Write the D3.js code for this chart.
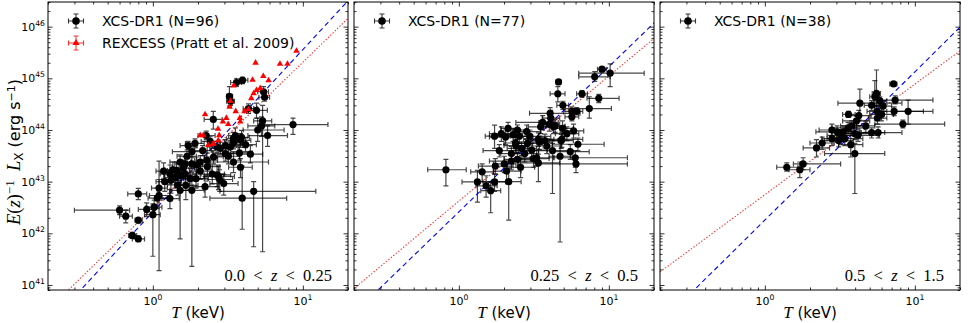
<!DOCTYPE html>
<html>
<head>
<meta charset="utf-8">
<script src="https://cdn.jsdelivr.net/npm/d3@7"></script>
<style>
  body { margin: 0; background: #fff; }
  svg { display: block; font-family: "DejaVu Sans", sans-serif; }
</style>
</head>
<body>
<svg id="viz" width="970" height="323"></svg>
<script>

// XCS-DR1 clusters: [T, T low, T high, L, L low, L high]  (T in keV, L in erg/s)
let xcsLowZ = [
	[3.96,3.6,4.3,9.2e44,7.9e44,1.05e45], [3.61,3.3,3.9,8.3e44,7.0e44,9.8e44],
	[3.24,3.1,3.4,4.5e44,2.9e44,6.9e44], [3.30,3.1,3.5,3.6e44,3.0e44,4.3e44],
	[5.47,5.0,5.9,5.5e44,4.4e44,6.9e44], [5.56,5.1,6.0,4.3e44,3.6e44,5.1e44],
	[4.91,4.3,5.8,2.4e44,1.7e44,3.3e44], [4.34,4.0,4.7,2.6e44,2.1e44,3.2e44],
	[8.6,5.2,14.7,1.27e44,8.2e43,1.7e44], [2.53,2.2,2.9,1.6e44,1.04e44,2.3e44],
	[5.39,4.7,6.2,1.5e44,4.4e41,3.0e44], [5.3,4.3,6.5,1.2e44,7.5e43,1.8e44],
	[5.0,4.0,7.5,1.0e44,6.0e43,1.7e44], [5.82,4.3,7.9,7.8e43,4.8e43,1.2e44],
	[3.55,3.2,3.9,7.8e43,5.5e43,1.1e44], [3.9,3.5,4.4,7.2e43,5.2e43,9.8e43],
	[3.44,3.1,3.8,6.8e43,5.0e43,9.0e43], [1.72,1.52,1.97,5.0e43,4.2e43,6.0e43],
	[2.27,2.0,2.6,7.8e43,6.5e43,9.5e43], [1.82,1.35,2.3,3.8e43,2.9e43,4.9e43],
	[2.15,1.9,2.45,4.0e43,3.2e43,5.0e43], [2.68,2.3,3.1,4.7e43,3.7e43,6.0e43],
	[3.04,2.6,3.6,5.0e43,3.8e43,6.5e43], [3.45,3.0,4.0,5.8e43,4.3e43,7.5e43],
	[3.84,3.3,4.5,6.3e43,4.6e43,8.5e43], [3.04,2.5,3.7,3.5e43,2.5e43,4.8e43],
	[3.78,3.1,4.6,3.6e43,2.6e43,5.0e43], [2.54,2.2,2.95,3.0e43,2.2e43,4.0e43],
	[2.29,1.9,2.7,2.6e43,1.9e43,3.6e43], [3.45,2.4,5.9,2.4e43,1.5e43,3.8e43],
	[1.52,1.3,1.8,2.4e43,1.7e43,3.3e43], [1.82,1.55,2.15,2.2e43,1.5e43,3.1e43],
	[1.36,1.2,1.55,1.7e43,1.2e43,2.4e43], [1.44,1.25,1.65,1.65e43,1.1e43,2.4e43],
	[1.6,1.35,1.9,1.85e43,1.3e43,2.6e43], [1.96,1.6,2.4,2.1e43,1.4e43,3.0e43],
	[2.31,1.9,2.8,1.95e43,1.3e43,2.8e43], [1.30,1.12,1.5,1.4e43,9.0e42,2.1e43],
	[1.32,1.15,1.55,1.06e43,6.0e42,1.7e43], [1.41,1.2,1.65,1.2e43,7.5e42,1.9e43],
	[1.54,1.3,1.85,1.32e43,8.5e42,2.0e43], [1.77,1.45,2.2,1.14e43,7.0e42,1.8e43],
	[1.66,1.4,2.0,8.5e42,4.5e42,1.4e43], [1.82,1.5,2.2,6.8e42,2.3e41,1.2e43],
	[1.52,1.3,1.8,6.8e42,7.8e41,1.56e43], [1.30,1.15,1.5,4.7e42,3.0e42,7.0e42],
	[1.10,0.98,1.25,7.5e42,5.0e42,1.1e43], [1.10,0.95,1.3,5.4e42,1.9e41,2.5e43],
	[0.80,0.68,0.91,5.8e42,4.5e42,7.4e42], [1.07,0.93,1.25,4.8e42,3.0e42,7.5e42],
	[1.02,0.9,1.15,3.2e42,2.3e42,4.4e42], [0.91,0.8,1.03,2.9e42,2.1e42,3.9e42],
	[1.0,0.88,1.12,2.3e42,3.6e41,3.7e42], [0.60,0.30,0.70,2.8e42,2.3e42,3.4e42],
	[0.66,0.60,0.73,2.15e42,1.6e42,2.8e42], [0.80,0.76,0.85,1.8e42,1.6e42,2.0e42],
	[0.73,0.69,0.78,9.1e41,8.0e41,1.05e42], [0.80,0.73,0.88,7.8e41,6.9e41,8.9e41],
	[2.68,2.2,3.3,1.35e43,8.0e42,2.1e43], [2.79,2.3,3.4,1.1e43,6.5e42,1.7e43],
	[2.97,2.4,3.7,9.2e42,5.5e42,1.4e43], [3.84,3.2,4.6,1.9e43,1.2e43,2.8e43],
	[4.7,2.8,12.2,6.5e42,5.5e41,1.0e43], [3.94,2.4,7.8,4.8e42,1.2e42,2.0e43],
	[3.28,2.9,3.7,4.7e43,3.5e43,6.2e43], [1.64,1.4,1.95,2.2e43,1.6e43,3.0e43],
	[2.07,1.8,2.4,2.4e43,1.8e43,3.2e43], [2.74,2.2,3.5,1.26e43,7.0e42,2.0e43],
	[1.91,1.65,2.2,5.5e43,4.5e43,6.7e43], [2.41,2.1,2.8,6.0e43,4.8e43,7.4e43],
	[2.82,2.4,3.3,4.4e43,3.3e43,5.8e43], [3.19,2.7,3.8,3.1e43,2.2e43,4.3e43],
	[2.07,1.75,2.45,1.6e43,1.1e43,2.3e43], [2.49,2.1,3.0,1.4e43,9.0e42,2.1e43],
	[1.2,1.05,1.4,1.0e43,6.5e42,1.5e43], [1.47,1.25,1.75,8.7e42,5.5e42,1.35e43],
	[1.94,1.6,2.35,1.14e43,7.5e42,1.7e43], [2.23,1.85,2.7,8.0e42,5.0e42,1.25e43],
	[1.64,1.4,1.95,1.4e43,9.5e42,2.0e43], [4.15,3.5,4.9,5.2e43,3.8e43,7.0e43],
	[4.47,3.7,5.4,3.4e43,2.3e43,5.0e43], [1.69,1.45,1.95,3.1e43,2.3e43,4.1e43],
	[1.18,1.05,1.35,1.6e43,1.1e43,2.3e43]
];

let xcsMidZ = [
	[9.0,8.4,9.6,1.5e45,1.35e45,1.65e45], [8.05,6.3,10.2,1.07e45,8.7e44,1.35e45],
	[10.2,6.3,17.2,1.26e45,6.9e44,1.9e45], [4.62,4.45,4.8,8.5e44,7.8e44,9.3e44],
	[4.57,4.06,5.1,5.0e44,3.5e44,6.9e44], [6.62,6.1,7.2,5.0e44,4.3e44,5.8e44],
	[8.57,7.15,11.7,4.1e44,3.4e44,4.9e44], [7.41,5.1,10.4,2.6e44,1.7e44,4.4e44],
	[4.94,4.5,5.4,3.0e44,2.5e44,3.6e44], [5.67,5.0,6.4,2.3e44,1.9e44,2.8e44],
	[6.1,5.6,6.7,2.3e44,1.95e44,2.7e44], [4.06,2.96,6.42,2.1e44,1.6e44,2.7e44],
	[4.1,3.6,4.7,1.7e44,1.2e44,2.4e44], [3.62,2.4,4.6,1.4e44,1.0e44,1.9e44],
	[5.67,5.1,6.3,1.8e44,1.5e44,2.2e44], [4.27,3.6,5.1,1.15e44,8.5e43,1.5e44],
	[4.91,4.2,5.8,1.07e44,7.5e43,1.5e44], [5.82,5.0,6.8,9.6e43,7.0e43,1.3e44],
	[2.13,1.9,2.45,1.07e44,8.0e43,1.4e44], [2.46,2.1,2.9,1.0e44,5.5e43,1.25e44],
	[1.73,1.5,2.0,7.6e43,4.4e43,1.24e44], [2.05,1.6,2.5,7.3e43,5.2e43,1.0e44],
	[2.30,2.0,2.65,8.1e43,6.0e43,1.05e44], [2.53,2.2,2.9,7.6e43,5.5e43,1.0e44],
	[2.98,2.1,4.1,7.5e43,5.5e43,1.0e44], [3.39,2.7,4.3,6.6e43,4.8e43,8.8e43],
	[3.75,3.0,4.6,6.2e43,4.5e43,8.3e43], [4.86,3.6,6.7,6.6e43,4.6e43,9.0e43],
	[6.22,4.2,9.3,5.3e43,4.0e43,7.0e43], [2.87,2.3,3.6,5.5e43,4.0e43,7.5e43],
	[2.39,2.0,2.8,5.6e43,4.1e43,7.5e43], [1.86,1.45,2.49,4.0e43,3.0e43,5.2e43],
	[2.62,2.1,3.3,4.4e43,3.2e43,5.9e43], [3.06,2.4,3.9,4.1e43,3.0e43,5.5e43],
	[4.21,3.4,5.4,4.0e43,5.9e42,5.5e43], [5.53,4.3,7.4,3.8e43,2.7e43,5.2e43],
	[2.24,1.9,2.7,3.5e43,2.5e43,4.8e43], [0.82,0.62,1.12,1.7e43,8.3e42,2.7e43],
	[1.33,1.05,1.75,9.9e42,4.0e42,1.66e43], [1.43,1.2,1.7,1.55e43,1.0e43,2.2e43],
	[1.63,1.4,1.9,6.7e42,2.5e42,1.0e43], [1.52,1.3,1.8,8.3e42,5.0e42,1.3e43],
	[1.73,1.45,2.05,9.9e42,6.5e42,1.4e43], [1.75,1.35,2.3,2.0e43,1.4e43,2.8e43],
	[2.15,1.8,2.6,1.0e43,1.8e42,1.8e43], [2.08,1.7,2.6,1.6e43,1.0e43,2.3e43],
	[2.24,1.6,3.2,2.5e43,1.7e43,3.5e43], [2.46,2.0,3.0,2.7e43,1.9e43,3.7e43],
	[2.4,2.0,2.9,5.0e43,3.6e43,6.6e43], [2.75,2.2,3.4,3.5e43,2.4e43,4.8e43],
	[3.30,2.6,4.3,2.9e43,2.0e43,4.0e43], [3.39,2.5,4.7,2.3e43,1.0e43,3.4e43],
	[4.73,4.0,5.6,3.1e43,6.8e41,6.8e43], [5.97,4.3,13.3,2.9e43,1.9e43,4.0e43],
	[6.04,3.3,13.3,2.2e43,1.5e43,3.0e43], [3.44,2.8,4.2,5.8e43,4.2e43,7.6e43],
	[4.81,4.0,5.8,6.2e43,4.4e43,8.2e43], [4.01,3.4,4.7,1.3e44,9.5e43,1.7e44],
	[4.38,3.8,5.1,1.2e44,9.0e43,1.6e44], [3.51,2.9,4.2,1.15e44,8.5e43,1.5e44],
	[1.92,1.6,2.3,8.5e43,6.0e43,1.15e44], [2.83,2.3,3.5,9.3e43,6.8e43,1.25e44],
	[3.15,2.5,4.0,2.8e43,1.9e43,4.0e43], [3.86,3.1,4.8,4.9e43,3.5e43,6.6e43],
	[2.01,1.7,2.4,2.2e43,1.5e43,3.1e43], [2.58,2.1,3.2,1.9e43,1.2e43,2.8e43],
	[5.25,4.4,6.3,8.5e43,6.2e43,1.15e44]
];

let xcsHighZ = [
	[7.21,6.8,7.6,7.8e44,7.2e44,8.5e44], [5.55,5.2,5.9,5.1e44,1.55e44,1.45e45],
	[5.41,5.0,5.8,4.4e44,2.2e44,9.0e44], [7.39,5.84,13.2,3.8e44,3.2e44,4.6e44],
	[4.30,3.07,8.2,3.3e44,1.55e44,6.2e44], [5.15,4.6,5.8,3.0e44,2.4e44,3.7e44],
	[6.15,5.4,7.0,2.9e44,2.3e44,3.6e44], [5.61,4.8,6.5,2.3e44,1.8e44,2.9e44],
	[6.0,5.0,7.2,2.0e44,1.5e44,2.6e44], [5.63,4.9,6.5,1.7e44,1.3e44,2.2e44],
	[7.28,5.55,11.4,2.3e44,1.9e44,2.8e44], [9.02,7.36,13.2,2.3e44,1.3e44,3.8e44],
	[8.32,5.41,15.8,1.3e44,1.1e44,1.55e44], [3.61,3.3,4.0,2.0e44,1.75e44,2.3e44],
	[4.08,3.3,5.0,1.5e44,1.2e44,1.9e44], [4.23,3.5,5.1,1.9e44,1.5e44,2.4e44],
	[3.59,2.8,4.6,1.1e44,8.5e43,1.4e44], [3.03,2.19,4.3,9.2e43,7.2e43,1.2e44],
	[3.21,2.6,4.0,7.9e43,6.0e43,1.0e44], [3.32,2.8,4.0,9.2e43,7.0e43,1.2e44],
	[3.98,3.3,5.0,8.5e43,6.5e43,1.1e44], [4.18,3.0,5.8,7.9e43,6.0e43,1.05e44],
	[5.15,4.3,6.3,8.9e43,7.0e43,1.1e44], [5.69,4.4,8.2,8.9e43,7.0e43,1.15e44],
	[3.41,2.6,4.5,6.8e43,5.0e43,9.0e43], [3.74,3.1,4.5,5.2e43,3.0e43,1.25e44],
	[3.98,2.5,6.3,3.5e43,5.9e42,5.5e43], [2.21,1.8,2.7,4.5e43,3.0e43,6.5e43],
	[2.41,2.0,2.9,5.6e43,4.2e43,7.3e43], [1.40,1.2,1.66,1.9e43,1.6e43,2.3e43],
	[1.80,1.55,3.2,2.2e43,1.7e43,2.9e43], [1.71,1.45,2.0,1.7e43,1.2e43,2.4e43],
	[2.8,2.3,3.4,1.0e44,7.8e43,1.3e44], [5.84,5.3,6.5,3.7e44,3.1e44,4.4e44],
	[3.8,3.2,4.6,1.2e44,9.5e43,1.5e44], [3.11,2.5,3.9,6.2e43,4.7e43,8.2e43],
	[4.71,4.1,5.4,1.2e44,9.0e43,1.5e44], [2.8,2.4,3.3,6.8e43,5.0e43,9.0e43]
];

// REXCESS (Pratt et al. 2009), low-z panel only
let rexcessT = [9.07, 4.84, 7.04, 7.9, 4.62, 5.45, 5.91, 3.46, 4.91, 5.2, 4.7, 4.53,
	3.29, 3.25, 4.34, 3.57, 2.23, 3.09, 2.93, 3.8, 3.83, 2.72, 2.07, 2.17, 2.77,
	2.51, 2.73, 2.54, 2.34, 4.08, 3.18];
let rexcessL = [3.4e45, 2.0e45, 1.9e45, 1.9e45, 9.3e44, 1.1e45, 9.1e44, 7.2e44, 5.9e44,
	6.4e44, 5.1e44, 4.1e44, 3.6e44, 2.8e44, 2.5e44, 2.3e44, 2.0e44, 1.7e44, 1.45e44,
	1.7e44, 1.45e44, 1.05e44, 7.9e43, 7.9e43, 7.9e43, 5.3e43, 6.3e43, 5.5e43, 5.1e43,
	2.3e44, 1.3e44];

// Best fit relations L = norm * T^slope (norm at T = 1 keV)
let xcsFitNorm = [2.6e42, 2.6e42, 1.8e42];
let xcsFitSlope = [3.14, 2.81, 2.87];
let prattFitNorm = [3.1e42, 4.2e42, 5.6e42];
let prattFitSlope = [2.82, 2.42, 2.14];

let panelData = [xcsLowZ, xcsMidZ, xcsHighZ];
let sampleSizes = [96, 77, 38];
let zBins = [["0.0", "0.25"], ["0.25", "0.5"], ["0.5", "1.5"]];
let xMajorTicks = [1, 10];
let yMajorTicks = [1e41, 1e42, 1e43, 1e44, 1e45, 1e46];

const panelLeft = [48, 354, 660];
const panelW = 300, plotTop = 2, plotBottom = 290;
const serif = "'Liberation Serif', 'DejaVu Serif', serif";

let svg = d3.select('#viz');

let y = d3.scaleLog().domain([8e40, 3e46]).range([plotBottom, plotTop]);

function errPath(x, d, cap){
	let cx = x(d[0]), cy = y(d[3]);
	let xl = x(d[1]), xh = x(d[2]), yl = y(d[4]), yh = y(d[5]);
	return `M${xl},${cy}H${xh}` +
		`M${xl},${cy-cap}V${cy+cap}M${xh},${cy-cap}V${cy+cap}` +
		`M${cx},${yl}V${yh}` +
		`M${cx-cap},${yl}H${cx+cap}M${cx-cap},${yh}H${cx+cap}`;
}

function powLabel(sel, exp, size){
	sel.append('tspan').text('10');
	sel.append('tspan').attr('font-size', size * 0.7).attr('dy', -size * 0.45).text(exp);
}

function drawPanel(i){
	let x0 = panelLeft[i];
	let x = d3.scaleLog().domain([0.2, 20]).range([x0, x0 + panelW]);
	let g = svg.append('g');

	g.append('clipPath').attr('id', 'clip' + i)
		.append('rect').attr('x', x0).attr('y', plotTop)
		.attr('width', panelW).attr('height', plotBottom - plotTop);

	let plot = g.append('g').attr('clip-path', `url(#clip${i})`);

	// fit lines
	let line = d3.line().x(d => x(d[0])).y(d => y(d[1]));
	let tEnds = x.domain();
	plot.append('path')
		.attr('d', line(tEnds.map(t => [t, prattFitNorm[i] * Math.pow(t, prattFitSlope[i])])))
		.attr('fill', 'none').attr('stroke', '#ff0000').attr('stroke-opacity', 0.85)
		.attr('stroke-width', 1.1).attr('stroke-dasharray', '1.3,1.9');
	plot.append('path')
		.attr('d', line(tEnds.map(t => [t, xcsFitNorm[i] * Math.pow(t, xcsFitSlope[i])])))
		.attr('fill', 'none').attr('stroke', '#0000ff')
		.attr('stroke-width', 1.1).attr('stroke-dasharray', '5,3.5');

	// XCS points
	plot.append('g')
		.selectAll('path')
		.data(panelData[i])
		.enter()
		.append('path')
		.attr('d', d => errPath(x, d, 2.5))
		.attr('fill', 'none').attr('stroke', '#000')
		.attr('stroke-opacity', 0.72).attr('stroke-width', 1.2);

	plot.append('g')
		.selectAll('circle')
		.data(panelData[i])
		.enter()
		.append('circle')
		.attr('cx', d => x(d[0]))
		.attr('cy', d => y(d[3]))
		.attr('r', 3.6)
		.attr('fill', '#000');

	// REXCESS
	if (i === 0){
		plot.append('g')
			.selectAll('path')
			.data(rexcessT.map((t, k) => [t, rexcessL[k]]))
			.enter()
			.append('path')
			.attr('d', d3.symbol(d3.symbolTriangle, 18))
			.attr('transform', d => `translate(${x(d[0])},${y(d[1])})`)
			.attr('fill', '#ff0000');
	}

	// ticks on four sides, pointing inward
	let xMinor = x.ticks().filter(v => !xMajorTicks.includes(v));
	let yMinor = y.ticks().filter(v => !yMajorTicks.includes(v));
	let axes = g.append('g').attr('class', 'ticks');
	let mk = (axisFn, scale, vals, len, tr) => {
		axes.append('g').attr('transform', tr)
			.call(axisFn(scale).tickValues(vals).tickSize(-len).tickFormat(''))
			.call(a => a.select('.domain').remove())
			.call(a => a.selectAll('line').attr('stroke-width', 0.8));
	};
	mk(d3.axisBottom, x, xMajorTicks, 4.5, `translate(0,${plotBottom})`);
	mk(d3.axisBottom, x, xMinor, 2.5, `translate(0,${plotBottom})`);
	mk(d3.axisTop, x, xMajorTicks, 4.5, `translate(0,${plotTop})`);
	mk(d3.axisTop, x, xMinor, 2.5, `translate(0,${plotTop})`);
	mk(d3.axisLeft, y, yMajorTicks, 4.5, `translate(${x0},0)`);
	mk(d3.axisLeft, y, yMinor, 2.5, `translate(${x0},0)`);
	mk(d3.axisRight, y, yMajorTicks, 4.5, `translate(${x0 + panelW},0)`);
	mk(d3.axisRight, y, yMinor, 2.5, `translate(${x0 + panelW},0)`);

	g.append('rect')
		.attr('x', x0).attr('y', plotTop)
		.attr('width', panelW).attr('height', plotBottom - plotTop)
		.attr('fill', 'none').attr('stroke', '#000').attr('stroke-width', 1);

	// tick labels
	xMajorTicks.forEach(v => {
		let t = g.append('text')
			.attr('x', x(v)).attr('y', 305)
			.attr('text-anchor', 'middle').attr('font-size', 11);
		powLabel(t, Math.round(Math.log10(v)), 11);
	});
	if (i === 0){
		yMajorTicks.forEach(v => {
			let t = g.append('text')
				.attr('x', x0 - 3).attr('y', y(v) + 4)
				.attr('text-anchor', 'end').attr('font-size', 11);
			powLabel(t, Math.round(Math.log10(v)), 11);
		});
	}

	// x label
	let xl = g.append('text')
		.attr('x', x0 + panelW / 2).attr('y', 318)
		.attr('text-anchor', 'middle').attr('font-size', 15);
	xl.append('tspan').attr('font-family', serif).attr('font-style', 'italic')
		.attr('font-size', 17).text('T');
	xl.append('tspan').text(' (keV)');

	// redshift bin
	let zl = g.append('text')
		.attr('x', x0 + panelW - 16).attr('y', 281)
		.attr('text-anchor', 'end').attr('font-family', serif).attr('font-size', 16.5);
	zl.append('tspan').text(zBins[i][0] + '\u2002<\u2002');
	zl.append('tspan').attr('font-style', 'italic').text('z');
	zl.append('tspan').text('\u2002<\u2002' + zBins[i][1]);

	// legend
	let leg = g.append('g');
	let entries = [{label: `XCS-DR1 (N=${sampleSizes[i]})`, color: '#000', sym: 'circle'}];
	if (i === 0) entries.push({label: 'REXCESS (Pratt et al. 2009)', color: '#ff0000', sym: 'tri'});
	entries.forEach((e, k) => {
		let cy = 21 + k * 22, cx = x0 + 28;
		leg.append('path')
			.attr('d', `M${cx-7.5},${cy}H${cx+7.5}M${cx-7.5},${cy-2.5}V${cy+2.5}M${cx+7.5},${cy-2.5}V${cy+2.5}` +
				`M${cx},${cy-7}V${cy+7}M${cx-2.5},${cy-7}H${cx+2.5}M${cx-2.5},${cy+7}H${cx+2.5}`)
			.attr('stroke', e.color).attr('stroke-width', 1.1).attr('stroke-opacity', 0.8).attr('fill', 'none');
		if (e.sym === 'circle'){
			leg.append('circle').attr('cx', cx).attr('cy', cy).attr('r', 3.8).attr('fill', e.color);
		} else {
			leg.append('path').attr('d', d3.symbol(d3.symbolTriangle, 22))
				.attr('transform', `translate(${cx},${cy})`).attr('fill', e.color);
		}
		leg.append('text').attr('x', x0 + 54).attr('y', cy + 5)
			.attr('font-size', 14).text(e.label);
	});
}

[0, 1, 2].forEach(drawPanel);

// y axis label
let yl = svg.append('text')
	.attr('transform', `translate(20,152) rotate(-90)`)
	.attr('text-anchor', 'middle').attr('font-size', 16);
yl.append('tspan').attr('font-family', serif).attr('font-style', 'italic').attr('font-size', 18.5).text('E');
yl.append('tspan').attr('font-family', serif).attr('font-size', 18.5).text('(');
yl.append('tspan').attr('font-family', serif).attr('font-style', 'italic').attr('font-size', 18.5).text('z');
yl.append('tspan').attr('font-family', serif).attr('font-size', 18.5).text(')');
yl.append('tspan').attr('font-family', serif).attr('font-size', 13).attr('dy', -6).text('\u22121');
yl.append('tspan').attr('font-family', serif).attr('font-style', 'italic').attr('font-size', 18.5).attr('dy', 6).text('\u2002L');
yl.append('tspan').attr('font-size', 12).attr('dy', 3).text('X');
yl.append('tspan').attr('dy', -3).text(' (erg s');
yl.append('tspan').attr('font-size', 11).attr('dy', -5).text('\u22121');
yl.append('tspan').attr('dy', 5).text(')');

</script>
</body>
</html>
